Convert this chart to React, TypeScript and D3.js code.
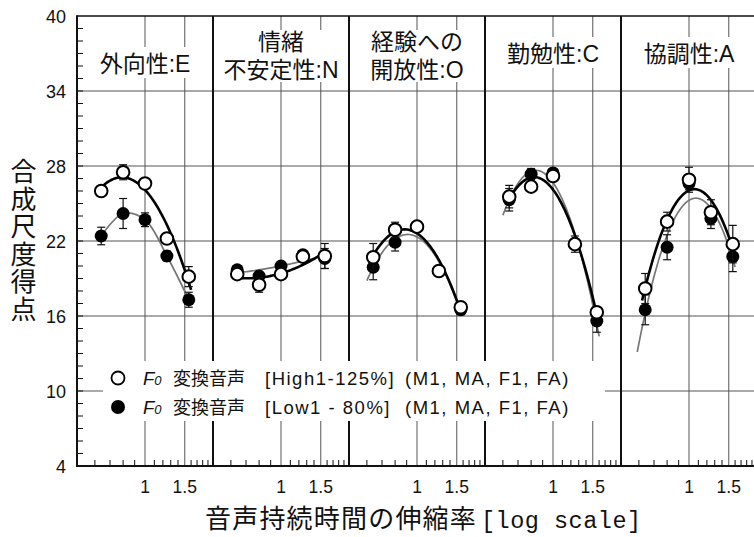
import React from 'react';
import * as d3 from 'd3';

const W = 754;
const H = 537;

// ---------- data ----------
const traitTitles: string[][] = [
  ['外向性:E'],
  ['情緒', '不安定性:N'],
  ['経験への', '開放性:O'],
  ['勤勉性:C'],
  ['協調性:A'],
];
const stretchRates = [0.64, 0.8, 1, 1.25, 1.5625];

const highScores = [
  [26.0, 27.5, 26.6, 22.2, 19.15],
  [19.35, 18.5, 19.35, 20.75, 20.8],
  [20.7, 22.9, 23.15, 19.6, 16.7],
  [25.55, 26.35, 27.2, 21.75, 16.3],
  [18.2, 23.55, 26.9, 24.3, 21.75],
];
const highErrors = [
  [0.3, 0.6, 0.3, 0.3, 0.8],
  [0.3, 0.6, 0.3, 0.4, 1.0],
  [1.1, 0.6, 0.3, 0.3, 0.3],
  [0.9, 0.3, 0.3, 0.65, 0.3],
  [1.2, 0.75, 1.0, 1.0, 1.5],
];
const lowScores = [
  [22.4, 24.2, 23.7, 20.8, 17.3],
  [19.7, 19.2, 20.0, 20.9, 20.6],
  [19.9, 21.9, 23.1, 19.6, 16.5],
  [25.3, 27.35, 27.45, 21.8, 15.6],
  [16.5, 21.5, 26.6, 23.8, 20.75],
];
const lowErrors = [
  [0.7, 1.2, 0.55, 0.4, 0.6],
  [0.3, 0.3, 0.3, 0.3, 0.8],
  [1.0, 0.7, 0.3, 0.3, 0.4],
  [0.9, 0.45, 0.3, 0.3, 0.9],
  [1.2, 1.0, 0.5, 0.8, 1.2],
];
// extent (stretch rate) of the fitted curves
const highFitSpan = [
  [0.64, 1.6],
  [0.64, 1.5625],
  [0.64, 1.58],
  [0.64, 1.6],
  [0.62, 1.6],
];
const lowFitSpan = [
  [0.64, 1.5625],
  [0.64, 1.5625],
  [0.6, 1.5625],
  [0.6, 1.6],
  [0.59, 1.6],
];
const lowFitKind = ['through', 'quadratic', 'quadratic', 'quadratic', 'quadratic'];

const xDomain = [0.5, 2];
const yDomain = [4, 40];
const yTickValues = [4, 10, 16, 22, 28, 34, 40];
const yGridValues = [10, 16, 22, 28, 34];
const yMinorStep = 1;
const xLabeledTicks = [1, 1.5];
const xMinorTicks = [0.6, 0.7, 0.8, 0.9, 1.1, 1.2, 1.3, 1.4, 1.6, 1.7, 1.8, 1.9];

const yAxisTitle = '合成尺度得点';
const xAxisTitleJa = '音声持続時間の伸縮率';
const xAxisTitleEn = '[log scale]';
const legendNames = ['変換音声', '変換音声'];
const legendConds = ['[High1-125%]', '[Low1 - 80%]'];
const legendSpeakers = ['(M1, MA, F1, FA)', '(M1, MA, F1, FA)'];

// ---------- helpers ----------
const SANS = "'Liberation Sans', Arial, 'Noto Sans CJK JP', sans-serif";
const MONO = "'Liberation Mono', 'DejaVu Sans Mono', monospace";

function quadFit(xs: number[], ys: number[]) {
  const us = xs.map((v) => Math.log(v));
  const S = [0, 0, 0, 0, 0];
  const T = [0, 0, 0];
  us.forEach((u, i) => {
    for (let p = 0; p < 5; p++) S[p] += u ** p;
    for (let p = 0; p < 3; p++) T[p] += ys[i] * u ** p;
  });
  const A = [
    [S[0], S[1], S[2], T[0]],
    [S[1], S[2], S[3], T[1]],
    [S[2], S[3], S[4], T[2]],
  ];
  for (let c = 0; c < 3; c++) {
    let piv = c;
    for (let r = c + 1; r < 3; r++) if (Math.abs(A[r][c]) > Math.abs(A[piv][c])) piv = r;
    [A[c], A[piv]] = [A[piv], A[c]];
    for (let r = 0; r < 3; r++) {
      if (r === c) continue;
      const f = A[r][c] / A[c][c];
      for (let k = c; k < 4; k++) A[r][k] -= f * A[c][k];
    }
  }
  const co = [A[0][3] / A[0][0], A[1][3] / A[1][1], A[2][3] / A[2][2]];
  return (x: number) => {
    const u = Math.log(x);
    return co[0] + co[1] * u + co[2] * u * u;
  };
}

function estWidth(s: string, fs: number) {
  let w = 0;
  for (const ch of s) {
    if (/[\u3000-\u9fff]/.test(ch)) w += fs;
    else if (ch === ':') w += 0.3 * fs;
    else w += 0.68 * fs;
  }
  return w;
}

export default function App() {
  const x0 = 77;
  const pw = 136;
  const top = 16;
  const bottom = 466;
  const y = d3.scaleLinear().domain(yDomain).range([bottom, top]);
  const panels = traitTitles.map((_, i) =>
    d3.scaleLog().domain(xDomain).range([x0 + i * pw, x0 + (i + 1) * pw])
  );

  const minorY = d3.range(yDomain[0] + yMinorStep, yDomain[1], yMinorStep);

  const titleFs = 23;

  return (
    <svg
      width={W}
      height={H}
      style={{ position: 'absolute', left: 0, top: 0, background: '#fff' }}
      fontFamily={SANS}
    >
      <defs>
        {panels.map((xs, i) => (
          <clipPath id={`clip${i}`} key={i}>
            <rect x={xs.range()[0] + 1} y={top} width={pw - 2} height={bottom - top} />
          </clipPath>
        ))}
      </defs>
      <rect x={0} y={0} width={W} height={H} fill="#fff" />

      {/* horizontal grid */}
      {yGridValues.map((v) => (
        <line key={v} x1={x0} x2={W} y1={y(v)} y2={y(v)} stroke="#555" strokeWidth={1} />
      ))}
      {/* vertical grid */}
      {panels.map((xs, i) =>
        xLabeledTicks.map((t) => (
          <line key={`${i}-${t}`} x1={xs(t)} x2={xs(t)} y1={top} y2={bottom} stroke="#555" strokeWidth={1} />
        ))
      )}

      {/* frame */}
      <line x1={x0} x2={W} y1={top} y2={top} stroke="#111" strokeWidth={1.6} />
      <line x1={x0} x2={x0} y1={top - 0.8} y2={bottom + 1} stroke="#111" strokeWidth={2} />
      {panels.map((xs, i) => (
        <line key={i} x1={xs.range()[1]} x2={xs.range()[1]} y1={top} y2={bottom} stroke="#111" strokeWidth={2} />
      ))}

      {/* titles */}
      {traitTitles.map((lines, i) => {
        const xs = panels[i];
        const cx = (xs.range()[0] + xs.range()[1]) / 2;
        const twoLine = lines.length > 1;
        const baselines = twoLine ? [50, 78] : [i === 0 ? 72 : 62];
        const wMax = d3.max(lines, (l) => estWidth(l, titleFs)) as number;
        const ry0 = baselines[0] - (twoLine ? 20 : 25);
        const ry1 = baselines[baselines.length - 1] + (twoLine ? 4 : 6);
        return (
          <g key={i}>
            <rect x={cx - wMax / 2 - 3} y={ry0} width={wMax + 6} height={ry1 - ry0} fill="#fff" />
            {lines.map((l, j) => (
              <text key={j} x={cx} y={baselines[j]} textAnchor="middle" fontSize={titleFs} fill="#111">
                {l}
              </text>
            ))}
          </g>
        );
      })}

      {/* legend background */}
      <rect x={103} y={361} width={502} height={60} fill="#fff" />

      {/* axis ticks */}
      {minorY.map((v) => (
        <line key={v} x1={x0} x2={x0 + 6} y1={y(v)} y2={y(v)} stroke="#111" strokeWidth={1} />
      ))}
      {yTickValues.map((v) => (
        <text key={v} x={66} y={y(v) + 6.5} textAnchor="end" fontSize={18} fill="#111">
          {v}
        </text>
      ))}
      <line x1={x0 - 1} x2={W} y1={bottom} y2={bottom} stroke="#111" strokeWidth={2} />
      {panels.map((xs, i) => (
        <g key={i}>
          {xMinorTicks.map((t) => (
            <line key={t} x1={xs(t)} x2={xs(t)} y1={bottom} y2={bottom - 6} stroke="#111" strokeWidth={1} />
          ))}
          {xLabeledTicks.map((t) => (
            <text key={t} x={xs(t)} y={493} textAnchor="middle" fontSize={17.5} fill="#111">
              {t}
            </text>
          ))}
        </g>
      ))}

      {/* fitted curves */}
      {panels.map((xs, i) => {
        const line = d3
          .line<[number, number]>()
          .x((d) => xs(d[0]))
          .y((d) => y(d[1]));
        const hiF = quadFit(stretchRates, highScores[i]);
        const [ha, hb] = highFitSpan[i];
        const hiPts = d3.range(0, 61).map((j) => {
          const xv = ha * (hb / ha) ** (j / 60);
          return [xv, hiF(xv)] as [number, number];
        });
        let loPath: string | null;
        if (lowFitKind[i] === 'through') {
          loPath = d3
            .line<[number, number]>()
            .x((d) => xs(d[0]))
            .y((d) => y(d[1]))
            .curve(d3.curveCatmullRom)(stretchRates.map((r, k) => [r, lowScores[i][k]] as [number, number]));
        } else {
          const loF = quadFit(stretchRates, lowScores[i]);
          const [la, lb] = lowFitSpan[i];
          const loPts = d3.range(0, 61).map((j) => {
            const xv = la * (lb / la) ** (j / 60);
            return [xv, loF(xv)] as [number, number];
          });
          loPath = line(loPts);
        }
        return (
          <g key={i} clipPath={`url(#clip${i})`}>
            <path d={loPath || ''} fill="none" stroke="#777" strokeWidth={1.7} />
            <path d={line(hiPts) || ''} fill="none" stroke="#000" strokeWidth={2.6} />
          </g>
        );
      })}

      {/* error bars + markers */}
      {panels.map((xs, i) => (
        <g key={i}>
          {stretchRates.map((r, k) => {
            const cx = xs(r);
            const m = lowScores[i][k];
            const e = lowErrors[i][k];
            return (
              <g key={k} stroke="#111" strokeWidth={1.2}>
                <line x1={cx} x2={cx} y1={y(m + e)} y2={y(m - e)} />
                <line x1={cx - 4} x2={cx + 4} y1={y(m + e)} y2={y(m + e)} />
                <line x1={cx - 4} x2={cx + 4} y1={y(m - e)} y2={y(m - e)} />
              </g>
            );
          })}
          {stretchRates.map((r, k) => (
            <circle key={k} cx={xs(r)} cy={y(lowScores[i][k])} r={6.5} fill="#000" />
          ))}
          {stretchRates.map((r, k) => {
            const cx = xs(r);
            const m = highScores[i][k];
            const e = highErrors[i][k];
            return (
              <g key={k} stroke="#111" strokeWidth={1.2}>
                <line x1={cx} x2={cx} y1={y(m + e)} y2={y(m - e)} />
                <line x1={cx - 4} x2={cx + 4} y1={y(m + e)} y2={y(m + e)} />
                <line x1={cx - 4} x2={cx + 4} y1={y(m - e)} y2={y(m - e)} />
              </g>
            );
          })}
          {stretchRates.map((r, k) => (
            <circle key={k} cx={xs(r)} cy={y(highScores[i][k])} r={6.3} fill="#fff" stroke="#000" strokeWidth={2} />
          ))}
        </g>
      ))}

      {/* legend */}
      {[0, 1].map((j) => {
        const base = 385 + j * 29;
        const my = 378 + j * 29;
        return (
          <g key={j}>
            {j === 0 ? (
              <circle cx={118} cy={my} r={6.5} fill="#fff" stroke="#000" strokeWidth={1.8} />
            ) : (
              <circle cx={118} cy={my} r={7} fill="#000" />
            )}
            <text x={143} y={base} fontSize={18.5} fill="#111" fontStyle="italic">
              F<tspan fontSize={13}>0</tspan>
            </text>
            <text x={173} y={base} fontSize={18} fill="#111">
              {legendNames[j]}
            </text>
            <text x={265} y={base} fontSize={18.5} fill="#111" letterSpacing={1.5}>
              {legendConds[j]}
            </text>
            <text x={405} y={base} fontSize={18.5} fill="#111" letterSpacing={1.5}>
              {legendSpeakers[j]}
            </text>
          </g>
        );
      })}

      {/* axis titles */}
      {Array.from(yAxisTitle).map((ch, k) => (
        <text key={k} x={23.5} y={172 + k * 27.5} textAnchor="middle" dominantBaseline="central" fontSize={26} fill="#111">
          {ch}
        </text>
      ))}
      <text x={205} y={528} fontSize={26} letterSpacing={1.2} fill="#111">
        {xAxisTitleJa}
      </text>
      <text x={481} y={528} fontSize={23.5} letterSpacing={0.5} fontFamily={MONO} fill="#111">
        {xAxisTitleEn}
      </text>
    </svg>
  );
}
